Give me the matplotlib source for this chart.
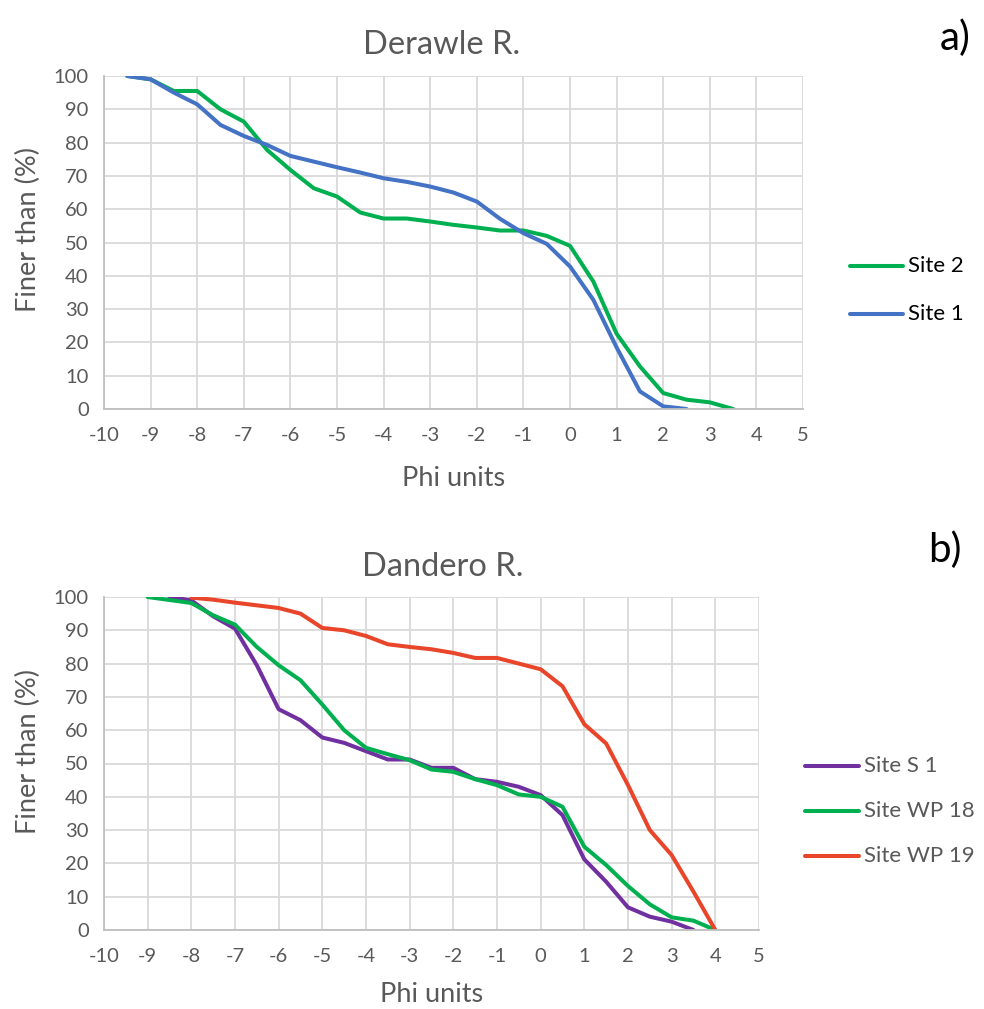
import matplotlib
matplotlib.use("Agg")
import matplotlib.pyplot as plt
from matplotlib.lines import Line2D

plt.rcParams['font.family'] = ['Lato', 'DejaVu Sans']
plt.rcParams['axes.unicode_minus'] = False

# ---- Data: Derawle R. ----
phi_site2 = [-9.5, -9, -8.5, -8, -7.5, -7, -6.5, -6, -5.5, -5, -4.5, -4, -3.5, -3, -2.5, -2, -1.5, -1, -0.5, 0, 0.5, 1, 1.5, 2, 2.5, 3, 3.5]
finer_site2 = [100, 99, 95.5, 95.5, 90, 86.3, 77.8, 71.8, 66.3, 63.8, 59, 57.2, 57.2, 56.3, 55.3, 54.5, 53.6, 53.6, 52, 49, 38.3, 22.6, 12.8, 4.8, 2.8, 2.0, 0]
phi_site1 = [-9.5, -9, -8.5, -8, -7.5, -7, -6.5, -6, -5.5, -5, -4.5, -4, -3.5, -3, -2.5, -2, -1.5, -1, -0.5, 0, 0.5, 1, 1.5, 2, 2.5]
finer_site1 = [100, 99, 95, 91.5, 85.3, 82, 79.3, 76, 74.3, 72.6, 71, 69.3, 68.2, 66.8, 65, 62.3, 57.1, 52.8, 49.6, 42.8, 32.8, 18.5, 5.3, 0.8, 0]

# ---- Data: Dandero R. ----
phi_s1 = [-8.5, -8, -7.5, -7, -6.5, -6, -5.5, -5, -4.5, -4, -3.5, -3, -2.5, -2, -1.5, -1, -0.5, 0, 0.5, 1, 1.5, 2, 2.5, 3, 3.5]
finer_s1 = [100, 99, 94.2, 90.5, 79.5, 66.3, 63, 57.8, 56.2, 53.7, 51.2, 51.2, 48.7, 48.7, 45.3, 44.5, 43, 40.5, 34.5, 21.2, 14.5, 6.8, 4, 2.5, 0]
phi_wp18 = [-9, -8, -7.5, -7, -6.5, -6, -5.5, -5, -4.5, -4, -3.5, -3, -2.5, -2, -1.5, -1, -0.5, 0, 0.5, 1, 1.5, 2, 2.5, 3, 3.5, 4]
finer_wp18 = [100, 98.2, 94.5, 91.7, 85, 79.5, 75, 67.7, 60, 54.7, 52.8, 51, 48.2, 47.5, 45.3, 43.5, 40.7, 40, 37, 25, 19.5, 13.2, 7.7, 3.8, 2.8, 0]
phi_wp19 = [-8, -7.5, -7, -6.5, -6, -5.5, -5, -4.5, -4, -3.5, -3, -2.5, -2, -1.5, -1, -0.5, 0, 0.5, 1, 1.5, 2, 2.5, 3, 3.5, 4]
finer_wp19 = [99.8, 99.2, 98.3, 97.5, 96.7, 95, 90.7, 90, 88.3, 85.8, 85, 84.3, 83.2, 81.7, 81.7, 80, 78.3, 73.2, 61.8, 56, 43.5, 30, 22.5, 11.5, 0]

x_ticks = list(range(-10, 6))
y_ticks = list(range(0, 101, 10))

GREEN = '#00B050'
BLUE = '#4472C4'
PURPLE = '#7030A0'
RED = '#E8452A'
GRID = '#D9D9D9'
TXT = '#595959'
LW = 2.9

W, H = 984, 1009
fig = plt.figure(figsize=(W / 100, H / 100), dpi=100)


def fx(px):
    return px / W


def fy(py):
    return 1 - py / H


def make_ax(left, right, top, bottom, xlab_y, ylab_y):
    ax = fig.add_axes([fx(left), fy(bottom), (right - left) / W, (bottom - top) / H])
    ax.set_xlim(-10, 5)
    ax.set_ylim(0, 100)
    ax.set_xticks(x_ticks)
    ax.set_yticks(y_ticks)
    ax.grid(True, color=GRID, linewidth=1.3)
    ax.set_axisbelow(True)
    for s in ['top', 'right']:
        ax.spines[s].set_visible(False)
    for s in ['left', 'bottom']:
        ax.spines[s].set_color('#BFBFBF')
        ax.spines[s].set_linewidth(1.3)
    ax.tick_params(axis='both', length=0, labelsize=14.5, colors=TXT)
    ax.tick_params(axis='x', pad=13)
    ax.tick_params(axis='y', pad=11)
    ax.set_xlabel('Phi units', fontsize=19.5, color=TXT, va='center')
    ax.set_ylabel('Finer than (%)', fontsize=19.5, color=TXT, va='center')
    ax.xaxis.set_label_coords(0.5, (bottom - xlab_y) / (bottom - top))
    ax.yaxis.set_label_coords((28 - left) / (right - left), (bottom - ylab_y) / (bottom - top))
    return ax


def add_legend(lines, labels, x0, x1, ys, color):
    for ln, lab, y in zip(lines, labels, ys):
        fig.add_artist(Line2D([fx(x0), fx(x1)], [fy(y), fy(y)], color=ln.get_color(),
                              lw=LW, solid_capstyle='round', transform=fig.transFigure))
        fig.text(fx(x1 + 5), fy(y), lab, ha='left', va='center', fontsize=16, color=color)


# Top chart
ax1 = make_ax(104, 803, 76, 409, 479, 230)
l2, = ax1.plot(phi_site2, finer_site2, color=GREEN, lw=LW, solid_capstyle='round', label='Site 2')
l1, = ax1.plot(phi_site1, finer_site1, color=BLUE, lw=LW, solid_capstyle='round', label='Site 1')
fig.text(fx(442), fy(45), 'Derawle R.', ha='center', va='center', fontsize=23.5, color=TXT)
fig.text(fx(955), fy(38), 'a)', ha='center', va='center', fontsize=29, color='black')
add_legend([l2, l1], ['Site 2', 'Site 1'], 850, 903, [266, 314], 'black')

# Bottom chart
ax2 = make_ax(104, 759, 597, 930, 995, 752)
p1, = ax2.plot(phi_s1, finer_s1, color=PURPLE, lw=LW, solid_capstyle='round', label='Site S 1')
p2, = ax2.plot(phi_wp18, finer_wp18, color=GREEN, lw=LW, solid_capstyle='round', label='Site WP 18')
p3, = ax2.plot(phi_wp19, finer_wp19, color=RED, lw=LW, solid_capstyle='round', label='Site WP 19')
fig.text(fx(443), fy(567), 'Dandero R.', ha='center', va='center', fontsize=23.5, color=TXT)
fig.text(fx(945), fy(550), 'b)', ha='center', va='center', fontsize=29, color='black')
add_legend([p1, p2, p3], ['Site S 1', 'Site WP 18', 'Site WP 19'], 805, 859, [766, 811, 856], TXT)

fig.savefig('out.png', dpi=100)
